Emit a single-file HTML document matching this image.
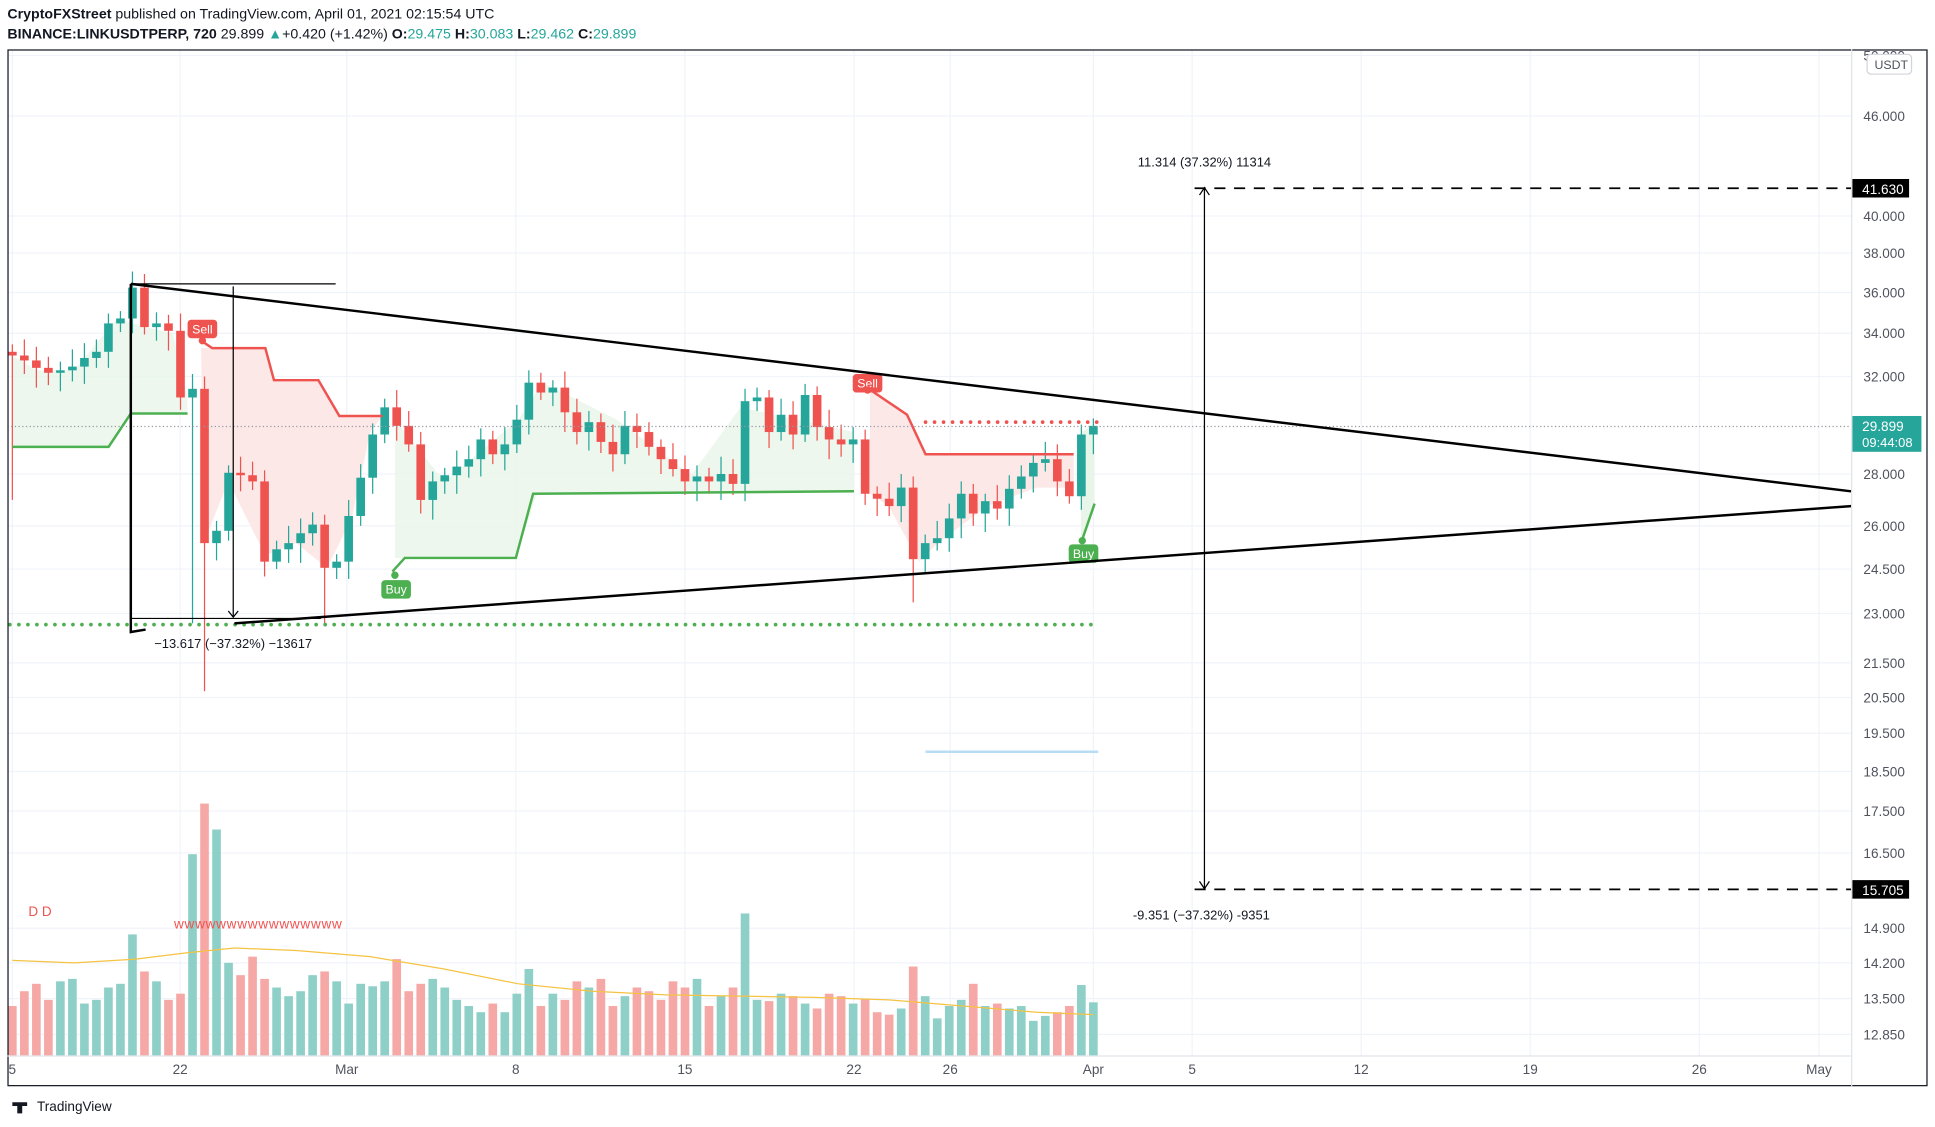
<!DOCTYPE html>
<html><head><meta charset="utf-8"><style>
html,body{margin:0;padding:0;background:#fff;}
svg{display:block;font-family:"Liberation Sans",sans-serif;}
</style></head><body>
<svg id="s" width="1935" height="1127" viewBox="0 0 1568 913" preserveAspectRatio="none" xmlns="http://www.w3.org/2000/svg">
<rect width="1568" height="913" fill="#fff"/>
<text x="6" y="15" font-size="11.5" fill="#131722"><tspan font-weight="bold">CryptoFXStreet</tspan> published on TradingView.com, April 01, 2021 02:15:54 UTC</text>
<text x="6" y="31" font-size="11.5" fill="#131722"><tspan font-weight="bold">BINANCE:LINKUSDTPERP, 720</tspan>  29.899 <tspan fill="#26a69a">▲</tspan>+0.420 (+1.42%) <tspan font-weight="bold">O:</tspan><tspan fill="#26a69a">29.475</tspan> <tspan font-weight="bold">H:</tspan><tspan fill="#26a69a">30.083</tspan> <tspan font-weight="bold">L:</tspan><tspan fill="#26a69a">29.462</tspan> <tspan font-weight="bold">C:</tspan><tspan fill="#26a69a">29.899</tspan></text>
<g id="grid" stroke="#f0f3fa" stroke-width="1"></g>
<g id="bg"></g>
<g id="vol"></g>
<g id="cd"></g>
<g id="ov"></g>
<rect x="6.5" y="40.5" width="1555" height="839" fill="none" stroke="#131722" stroke-width="1"/>
<line x1="1500.5" y1="40" x2="1500.5" y2="880" stroke="#e0e3eb"/>
<line x1="6" y1="855.5" x2="1500" y2="855.5" stroke="#e0e3eb"/>
<g id="ax" font-size="11" fill="#50535e"></g>
<text x="30" y="900" font-size="11" fill="#131722">TradingView</text>
<path d="M10 893h12v3h-4v6h-4v-6h-4z" fill="#131722"/>
</svg>
<script>
var NS="http://www.w3.org/2000/svg";
function el(p,t,a,txt){var e=document.createElementNS(NS,t);for(var k in a)e.setAttribute(k,a[k]);if(txt!=null)e.textContent=txt;document.getElementById(p).appendChild(e);return e;}
var ticks=[["50.000",45],["46.000",94],["40.000",175],["38.000",205],["36.000",237],["34.000",270],["32.000",305],["28.000",384],["26.000",426],["24.500",461],["23.000",497],["21.500",537],["20.500",565],["19.500",594],["18.500",625],["17.500",657],["16.500",691],["14.900",752],["14.200",780],["13.500",809],["12.850",838]];
ticks.forEach(function(t){el("grid","line",{x1:6,x2:1500,y1:t[1],y2:t[1]});el("ax","text",{x:1510,y:t[1]+4},t[0]);});
var dates=[["5",10],["22",146],["Mar",281],["8",418],["15",555],["22",692],["26",770],["Apr",886],["5",966],["12",1103],["19",1240],["26",1377],["May",1474]];
dates.forEach(function(d){el("grid","line",{x1:d[1],x2:d[1],y1:40,y2:855});el("ax","text",{x:d[1],y:870,"text-anchor":"middle"},d[0]);});
el("ax","rect",{x:1513,y:44,width:36,height:16,rx:3,fill:"#fff",stroke:"#d1d4dc"});
el("ax","text",{x:1519,y:56,"font-size":10},"USDT");
var C=[288,292,298,302,300,297,290,285,262,258,
233,265,262,268,322,315,
440,430,383,385,390,455,445,440,432,425,460,455,
418,387,352,330,345,360,405,390,385,378,372,356,
368,360,340,310,318,314,334,350,342,358,368,345,350,362,372,380,390,386,390,384,392,
325,322,350,336,352,320,346,356,360,356,400,404,410,395,453,440,436,420,400,416,406,412,396,386,375,372,390,402,352,345];
var V=[40,52,58,45,60,62,42,45,55,58,98,68,60,45,50,163,204,183,75,65,80,62,55,48,52,65,68,60,42,58,56,60,78,52,58,62,55,45,40,35,42,35,50,70,40,50,45,60,55,62,40,48,55,52,45,60,55,62,40,48,55,115,45,44,50,48,42,38,50,48,42,46,35,33,38,72,48,30,40,45,58,40,42,38,40,28,32,35,40,57,43];
var x0=10,dx=876/(C.length-1);
var o=285;
for(var i=0;i<C.length;i++){var x=x0+i*dx,c=C[i],up=c<o,col=up?"#26a69a":"#ef5350";
 var hi=Math.min(o,c)-6-(i*7%9),lo=Math.max(o,c)+6+(i*5%11);
 if(i==16)lo=560;if(i==15)lo=505;if(i==26)lo=505;if(i==75)lo=488;if(i==0){lo=405;}
 el("cd","line",{x1:x,x2:x,y1:hi,y2:lo,stroke:col,"stroke-width":1});
 el("cd","rect",{x:x-3.5,y:Math.min(o,c),width:7,height:Math.max(1,Math.abs(o-c)),fill:col});
 var vh=V[i]||40;
 el("vol","rect",{x:x-3.5,y:855-vh,width:7,height:vh,fill:up?"#8ecfc8":"#f5a8a6"});
 o=c;}
el("vol","polyline",{points:"10,778 60,780 110,777 150,772 190,768 240,770 300,775 360,785 420,797 480,803 540,806 600,807 660,808 720,810 780,815 840,820 886,822",fill:"none",stroke:"#f5c342","stroke-width":1});
el("ov","text",{x:23,y:742,"font-size":11,fill:"#ef5350"},"D D");
el("ov","text",{x:141,y:752,"font-size":11,fill:"#ef5350",textLength:136,lengthAdjust:"spacing"},"wwwwwwwwwwwwwwww");
el("bg","polygon",{points:"10,362 88,362 106,335 152,335 152,322 140,270 118,265 95,258 60,300 30,300 10,288",fill:"#e8f5e9",opacity:0.8});
el("bg","polygon",{points:"163,282 215,282 222,308 258,308 275,337 310,337 300,350 285,420 265,460 240,440 215,450 185,390 165,440",fill:"#fde8e8"});
el("bg","polygon",{points:"320,452 418,452 435,400 692,398 692,350 600,330 560,385 500,340 440,310 420,340 360,390 320,340",fill:"#e8f5e9",opacity:0.8});
el("bg","polygon",{points:"705,315 735,336 750,368 870,368 870,395 840,395 800,410 760,440 745,455 720,410 705,400",fill:"#fde8e8"});
el("bg","polygon",{points:"876,437 887,408 887,345 876,350",fill:"#e8f5e9"});
el("ov","polyline",{points:"10,362 88,362 106,335 152,335",fill:"none",stroke:"#4caf50","stroke-width":2});
el("ov","polyline",{points:"163,276 172,282 215,282 222,308 258,308 275,337 310,337",fill:"none",stroke:"#ef5350","stroke-width":2});
el("ov","polyline",{points:"318,463 328,452 418,452 432,400 692,398",fill:"none",stroke:"#4caf50","stroke-width":2});
el("ov","polyline",{points:"704,315 735,336 750,368 870,368",fill:"none",stroke:"#ef5350","stroke-width":2});
el("ov","polyline",{points:"877,437 887,408",fill:"none",stroke:"#4caf50","stroke-width":2});
el("ov","line",{x1:8,x2:890,y1:506,y2:506,stroke:"#4caf50","stroke-width":3,"stroke-dasharray":"0 7.3","stroke-linecap":"round"});
el("ov","line",{x1:750,x2:890,y1:342,y2:342,stroke:"#ef5350","stroke-width":3,"stroke-dasharray":"0 7.3","stroke-linecap":"round"});
el("ov","line",{x1:6,x2:1500,y1:345.5,y2:345.5,stroke:"#9598a1","stroke-width":1,"stroke-dasharray":"1 2"});
el("ov","line",{x1:750,x2:890,y1:609,y2:609,stroke:"#b9dcf5","stroke-width":2});
function lab(x,y,t,col){el("ov","rect",{x:x,y:y,width:24,height:15,rx:3,fill:col});el("ov","text",{x:x+12,y:y+11,"font-size":10,fill:"#fff","text-anchor":"middle"},t);}
lab(152,259,"Sell","#ef5350");lab(691,303,"Sell","#ef5350");lab(309,470,"Buy","#4caf50");lab(866,441,"Buy","#4caf50");
el("ov","circle",{cx:164,cy:276,r:3,fill:"#ef5350"});el("ov","circle",{cx:703,cy:316,r:3,fill:"#ef5350"});
el("ov","circle",{cx:320,cy:466,r:3,fill:"#4caf50"});el("ov","circle",{cx:877,cy:438,r:3,fill:"#4caf50"});
var L={stroke:"#000","stroke-width":2,fill:"none"};
el("ov","line",Object.assign({x1:106,y1:230,x2:1500,y2:398},L));
el("ov","line",Object.assign({x1:190,y1:505,x2:1500,y2:410},L));
el("ov","polyline",Object.assign({points:"118,510 106,512 106,230"},L));
el("ov","line",{x1:106,y1:230,x2:272,y2:230,stroke:"#000","stroke-width":1});
el("ov","line",{x1:106,y1:501,x2:260,y2:501,stroke:"#000","stroke-width":1});
el("ov","line",{x1:189,y1:232,x2:189,y2:500,stroke:"#000","stroke-width":1});
el("ov","polyline",{points:"185,495 189,500 193,495",stroke:"#000",fill:"none"});
el("ov","text",{x:125,y:525,"font-size":10.5,fill:"#131722"},"\u221213.617 (\u221237.32%) \u221213617");
el("ov","line",{x1:976,y1:152,x2:976,y2:720,stroke:"#000","stroke-width":1});
el("ov","polyline",{points:"972,158 976,152 980,158",stroke:"#000",fill:"none"});
el("ov","polyline",{points:"972,714 976,720 980,714",stroke:"#000",fill:"none"});
el("ov","line",{x1:968,y1:152.5,x2:1500,y2:152.5,stroke:"#000","stroke-width":1.5,"stroke-dasharray":"9 7"});
el("ov","line",{x1:968,y1:720.5,x2:1500,y2:720.5,stroke:"#000","stroke-width":1.5,"stroke-dasharray":"9 7"});
el("ov","text",{x:922,y:135,"font-size":10.5,fill:"#131722"},"11.314 (37.32%) 11314");
el("ov","text",{x:918,y:745,"font-size":10.5,fill:"#131722"},"-9.351 (\u221237.32%) -9351");
el("ov","rect",{x:1501,y:145,width:46,height:15,fill:"#000"});el("ov","text",{x:1509,y:157,"font-size":11,fill:"#fff"},"41.630");
el("ov","rect",{x:1501,y:713,width:46,height:15,fill:"#000"});el("ov","text",{x:1509,y:725,"font-size":11,fill:"#fff"},"15.705");
el("ov","rect",{x:1501,y:337,width:56,height:29,fill:"#26a69a"});el("ov","text",{x:1509,y:349,"font-size":11,fill:"#fff"},"29.899");
el("ov","text",{x:1509,y:362,"font-size":10.5,fill:"#fff"},"09:44:08");
</script>
</body></html>
